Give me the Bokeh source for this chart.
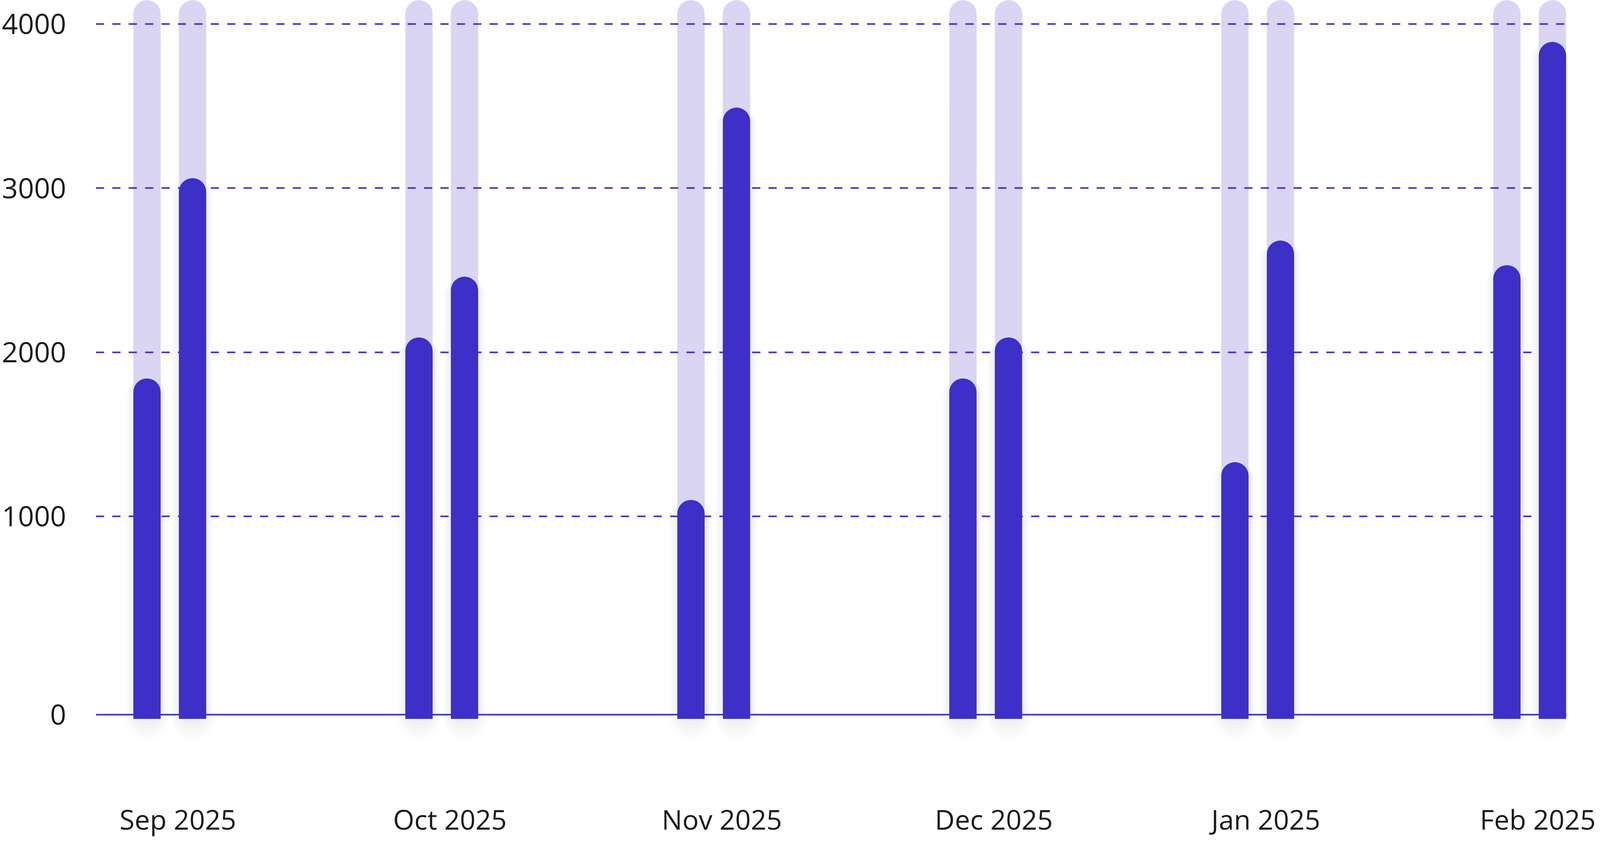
from bokeh.plotting import figure
from bokeh.models import FixedTicker, Span, Range1d, ColumnDataSource
from bokeh.embed import file_html
from bokeh.resources import INLINE

# ---------------- data ----------------
months = ["Sep 2025", "Oct 2025", "Nov 2025", "Dec 2025", "Jan 2025", "Feb 2025"]
series_a = [1840, 2090, 1100, 1840, 1330, 2530]
series_b = [3060, 2460, 3490, 2090, 2680, 3890]
y_tick_values = [0, 1000, 2000, 3000, 4000]
y_tick_labels = ["0", "1000", "2000", "3000", "4000"]

# ---------------- style / layout constants ----------------
SX = 0.6476                      # horizontal pixel scale (page is captured ~4100 px wide)
DARK = "#3d2fc8"
TRACK = "#d9d5f3"
TEXT = "#1a1a1a"
FONT = "Open Sans"

Y_START, Y_END = -427, 4144      # visible value window
BAR_BOTTOM = -234                # bars grow from the bottom band
BASELINE = -208                  # where the "0" baseline is drawn
PX_X = 1 / 1075.0                # one reference pixel in x units
PX_Y = 1 / 0.4205                # one pixel in y units
OFFSET = 90 * PX_X               # half distance between paired bars
SHIFT = -0.03                    # bars sit a little left of their label
BAR_W = 108 * PX_X
RADIUS = int(round(54 * SX))

idx = list(range(len(months)))
xa = [i + SHIFT - OFFSET for i in idx]
xb = [i + SHIFT + OFFSET for i in idx]

src = ColumnDataSource(dict(
    x=xa + xb,
    top=series_a + series_b,
))

p = figure(
    width=4090, height=2156,
    x_range=Range1d(-0.3016, 5.1058),
    y_range=Range1d(Y_START, Y_END),
    output_backend="svg", toolbar_location=None,
    min_border_left=245, min_border_right=80,
    min_border_top=0, min_border_bottom=234,
)
p.outline_line_color = None
p.background_fill_color = "white"
p.border_fill_color = "white"

# soft shadow under the dark bars
for k in range(1, 9):
    r = p.vbar(x="x", top="top", bottom=BAR_BOTTOM - 7 * k * PX_Y, source=src,
               width=BAR_W + 2 * 4 * k * PX_X,
               fill_color="black", fill_alpha=0.009, line_color=None,
               border_radius=int(round(RADIUS + 4 * k * SX)))
    r.level = "image"

# light tracks to the top
trk = p.vbar(x="x", top=Y_END, bottom=BAR_BOTTOM, source=src, width=BAR_W,
             fill_color=TRACK, line_color=None, border_radius=(RADIUS, RADIUS, 0, 0))
trk.level = "image"

# value bars
p.vbar(x="x", top="top", bottom=BAR_BOTTOM, source=src, width=BAR_W,
       fill_color=DARK, line_color=None, border_radius=(RADIUS, RADIUS, 0, 0))

# baseline
p.add_layout(Span(location=BASELINE, dimension="width", line_color=DARK,
                  line_width=4, level="underlay"))

# grid
dash = int(round(33 * SX))
p.xgrid.grid_line_color = None
p.ygrid.ticker = FixedTicker(ticks=[v for v in y_tick_values if v > 0])
p.ygrid.grid_line_color = DARK
p.ygrid.grid_line_width = 4
p.ygrid.grid_line_dash = f"{dash} {dash}"

# y axis
yax = p.yaxis[0]
y_positions = [BASELINE if v == 0 else v for v in y_tick_values]
yax.ticker = FixedTicker(ticks=y_positions)
yax.major_label_overrides = {pos: lab for pos, lab in zip(y_positions, y_tick_labels)}
yax.axis_line_color = None
yax.major_tick_line_color = None
yax.minor_tick_line_color = None
yax.major_tick_out = 0
yax.major_tick_in = 0
yax.major_label_standoff = 76
yax.major_label_text_font = FONT
yax.major_label_text_font_size = "72px"
yax.major_label_text_color = TEXT

# x axis
xax = p.xaxis[0]
xax.ticker = FixedTicker(ticks=idx)
xax.major_label_overrides = {i: m for i, m in zip(idx, months)}
xax.axis_line_color = None
xax.major_tick_line_color = None
xax.minor_tick_line_color = None
xax.major_tick_out = 0
xax.major_tick_in = 0
xax.major_label_standoff = 127
xax.major_label_text_font = FONT
xax.major_label_text_font_size = "70px"
xax.major_label_text_color = TEXT

open("out.html", "w").write(file_html(p, INLINE))
